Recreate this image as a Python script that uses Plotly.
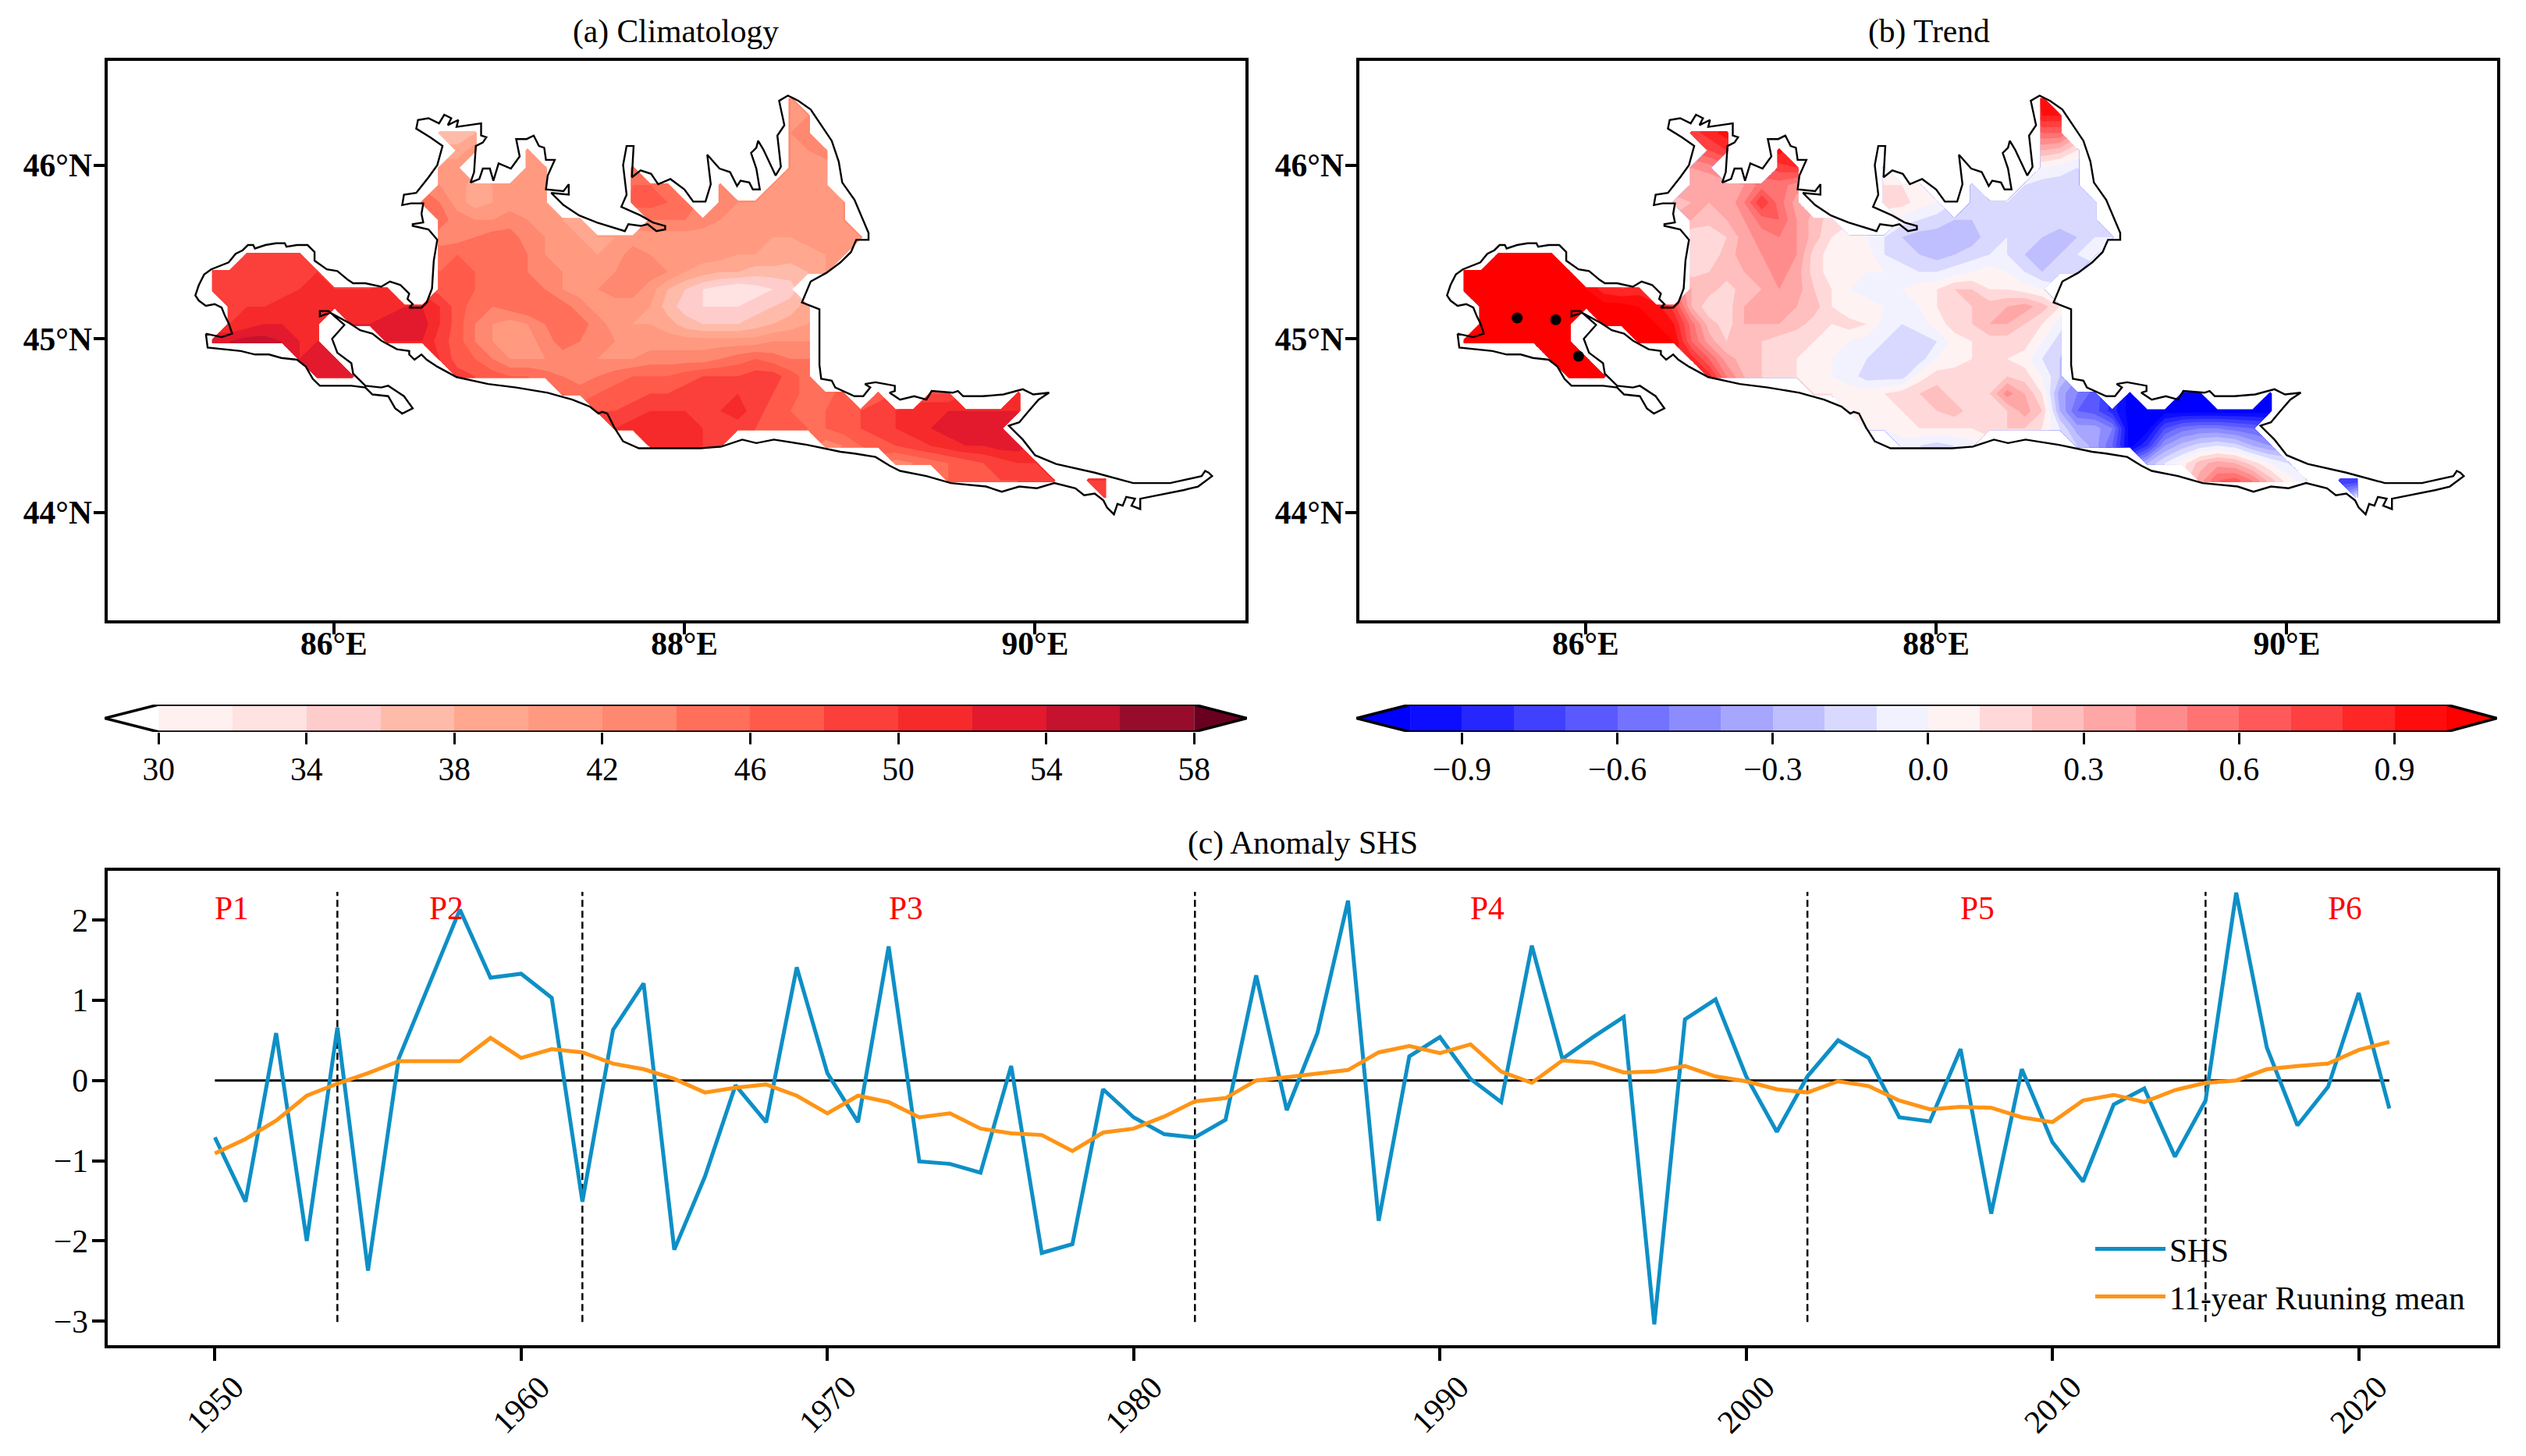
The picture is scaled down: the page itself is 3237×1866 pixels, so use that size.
import plotly.graph_objects as go

W, H = 3237, 1866
FONT = "Liberation Serif"

# ---- Gridded fields: 0.1 degree cells; each row is a list of (first column, values) runs
grid_lon = [round(85.305 + 0.1 * j, 3) for j in range(52)]
grid_lat = [round(44.085 + 0.1 * i, 3) for i in range(24)]

clim_rows = [
    [(51, [50])],
    [(42, [46, 47, 47, 48, 48, 49, 50]), (50, [50, 50])],
    [(39, [43, 44, 45, 46, 47, 48, 49, 50, 50])],
    [(25, [50, 51, 51, 50, 48]), (35, [43, 44, 46, 47, 48, 49, 50, 51, 52, 52, 53, 53])],
    [(23, [50, 51, 51, 51, 51, 50, 50, 49, 48, 48, 47, 46, 46, 47, 48, 49, 50, 51, 52, 53, 54, 54, 53])],
    [(22, [48, 48, 49, 50, 50, 50, 50, 50, 51, 49, 47, 46, 46, 46, 47, 48, 49, 50, 51, 52, 52, 52, 52, 52, 52])],
    [(20, [46, 45, 46, 47, 47, 48, 48, 49, 50, 50, 50, 49, 48, 47, 45, 45, 47]), (38, [47]), (41, [48, 48]), (46, [52])],
    [(6, [54, 53, 52]), (14, [49, 48, 47, 46, 46, 45, 44, 43, 44, 45, 46, 46, 46, 47, 48, 48, 48, 49, 49, 47, 45])],
    [(5, [52, 54, 54]), (13, [50, 47, 46, 44, 42, 42, 42, 43, 43, 42, 42, 42, 43, 43, 43, 43, 44, 45, 46, 45, 44, 44])],
    [(0, [53, 54, 55, 55, 54, 52, 52]), (10, [52, 52, 52, 49, 47, 44, 42, 41, 41, 43, 45, 44, 43, 42, 41, 41, 41, 41, 41, 41, 41, 41, 42, 42, 42])],
    [(1, [50, 51, 52, 52, 52, 51]), (8, [52, 52, 53, 53, 53, 50, 47, 44, 42, 41, 42, 44, 46, 45, 43, 41, 40, 40, 39, 37, 36, 36, 36, 37, 38, 39, 40])],
    [(1, [49, 50, 50, 51, 51, 51, 51, 51, 51, 51, 52, 52, 50, 47, 45, 44, 45, 46, 46, 45, 43, 41, 41, 41, 40, 37, 35, 34, 34, 34, 35, 36, 37, 39])],
    [(0, [50, 49, 48, 48, 49, 50, 51, 50, 50, 50, 51]), (13, [47, 47, 46, 46, 45, 45, 44, 42, 41, 42, 43, 43, 41, 38, 36, 34, 33, 32, 33, 34, 35])],
    [(0, [50, 50, 50, 50, 50, 50, 50]), (13, [46, 47, 46, 46, 45, 44, 43, 42, 41, 41, 42, 43, 43, 42, 40, 39, 38, 38, 37, 37, 37, 38, 40])],
    [(2, [49, 50, 49, 49]), (13, [45, 46, 46, 45, 45, 44, 42, 41, 41, 40, 41, 43, 42, 42, 41, 41, 41, 40, 40, 40, 39, 39, 40, 41])],
    [(13, [43, 43, 44, 45, 45, 43, 42, 41, 40, 40, 40, 41, 41, 41, 41, 41, 41, 41, 41, 40, 40, 41, 41, 41, 42])],
    [(13, [45, 43, 42, 42, 43, 42, 41, 40, 39]), (25, [44, 44, 44, 43, 42, 42, 41, 41, 41, 41, 41, 42])],
    [(12, [46, 44, 41, 39, 40, 41, 41, 40]), (24, [47, 47, 46, 45]), (29, [43, 42, 42, 42, 41, 41, 41, 42])],
    [(13, [42, 41, 39, 40, 41, 41, 41]), (24, [46, 46, 45]), (29, [43]), (32, [42, 41, 41, 41])],
    [(13, [41, 41]), (18, [42, 41]), (24, [44]), (33, [42, 41, 41])],
    [(14, [39, 41]), (18, [42]), (33, [42, 42, 43])],
    [(13, [36, 36, 38]), (33, [42, 43])],
    [(33, [42, 42])],
    [(33, [42])],
]

trend_rows = [
    [(51, [-0.05])],
    [(42, [0.35, 0.6, 0.65, 0.5, 0.25, 0.05, -0.05]), (50, [-0.8, -0.8])],
    [(39, [-0.3, -0.1, 0.05, 0.25, 0.35, 0.3, 0.15, 0.0, -0.1])],
    [(25, [-0.05, -0.1, -0.15, -0.1, -0.05]), (35, [-0.2, -0.35, -0.6, -1.05, -0.8, -0.4, -0.25, -0.15, -0.1, -0.15, -0.3, -0.4])],
    [(23, [0.0, 0.0, 0.05, 0.1, 0.1, 0.1, 0.1, 0.15, 0.2, 0.2, 0.1, -0.1, -0.35, -0.35, -0.5, -1.05, -1.05, -0.7, -0.55, -0.5, -0.5, -0.55, -0.6])],
    [(22, [0.0, 0.05, 0.05, 0.1, 0.1, 0.2, 0.25, 0.15, 0.1, 0.2, 0.35, 0.2, -0.3, -0.6, -0.65, -0.85, -1.05, -1.05, -1.05, -1.05, -1.05, -1.05, -1.05, -1.05, -1.05])],
    [(20, [0.1, 0.1, 0.05, 0.05, 0.1, 0.15, 0.2, 0.25, 0.15, 0.15, 0.2, 0.45, 0.3, 0.1, -0.35, -0.5, -0.65]), (38, [-1.05]), (41, [-1.05, -1.05]), (46, [-1.05])],
    [(6, [1.05, 1.05, 1.05]), (14, [0.85, 0.5, 0.3, 0.2, 0.15, 0.1, 0.05, 0.0, -0.05, -0.15, -0.15, -0.15, 0.05, 0.15, 0.15, 0.15, 0.1, 0.2, 0.15, 0.0, -0.2])],
    [(5, [1.05, 1.05, 1.05]), (13, [0.85, 0.6, 0.35, 0.25, 0.2, 0.15, 0.1, 0.05, 0.0, -0.05, -0.1, -0.15, -0.15, -0.15, 0.0, 0.05, 0.1, 0.15, 0.1, 0.05, -0.1, -0.2])],
    [(0, [1.05, 1.05, 1.05, 1.05, 1.05, 1.05, 1.05]), (10, [1.05, 1.05, 1.0, 0.6, 0.35, 0.2, 0.2, 0.2, 0.15, 0.1, 0.1, 0.05, 0.0, -0.05, -0.1, -0.15, -0.15, -0.1, 0.05, 0.1, 0.15, 0.15, 0.15, 0.0, -0.15])],
    [(1, [1.05, 1.05, 1.05, 1.05, 1.05, 1.05]), (8, [1.05, 1.05, 1.05, 1.0, 0.9, 0.55, 0.25, 0.15, 0.3, 0.3, 0.3, 0.25, 0.15, 0.1, 0.15, 0.1, -0.05, -0.1, -0.05, 0.05, 0.15, 0.2, 0.3, 0.3, 0.2, 0.1, -0.05])],
    [(1, [1.05, 1.05, 1.05, 1.05, 1.05, 1.05, 1.05, 1.05, 1.05, 1.0, 0.95, 0.75, 0.3, 0.12, 0.15, 0.3, 0.3, 0.4, 0.3, 0.25, 0.1, 0.0, 0.05, 0.0, -0.05, 0.0, 0.1, 0.15, 0.2, 0.25, 0.3, 0.35, 0.25, 0.1])],
    [(0, [1.05, 1.05, 1.05, 1.05, 1.05, 1.05, 1.05, 1.0, 0.85, 0.8, 0.85]), (13, [0.3, 0.25, 0.15, 0.25, 0.3, 0.4, 0.35, 0.2, 0.1, 0.0, -0.05, -0.1, 0.0, 0.05, 0.1, 0.2, 0.2, 0.1, 0.1, 0.05, 0.0])],
    [(0, [1.05, 1.05, 1.05, 1.05, 1.05, 1.05, 1.05]), (13, [0.15, 0.2, 0.25, 0.3, 0.35, 0.45, 0.35, 0.15, 0.05, 0.0, 0.0, 0.0, -0.05, -0.1, -0.1, -0.05, 0.0, 0.05, 0.0, -0.1, -0.2, -0.2, -0.15])],
    [(2, [1.05, 1.05, 1.05, 1.05]), (13, [0.1, 0.12, 0.25, 0.35, 0.4, 0.5, 0.4, 0.15, 0.05, 0.05, 0.05, -0.1, -0.15, -0.2, -0.25, -0.2, -0.15, -0.1, -0.1, -0.2, -0.25, -0.2, -0.1, -0.05])],
    [(13, [0.1, 0.1, 0.2, 0.35, 0.45, 0.5, 0.4, 0.25, 0.1, 0.05, 0.0, -0.1, -0.2, -0.25, -0.25, -0.25, -0.25, -0.15, -0.1, -0.15, -0.2, -0.25, -0.2, -0.1, -0.1])],
    [(13, [0.3, 0.25, 0.3, 0.4, 0.55, 0.6, 0.4, 0.25, 0.15]), (25, [-0.05, -0.1, -0.15, -0.2, -0.2, -0.15, -0.1, -0.15, -0.15, -0.15, -0.15, -0.15])],
    [(12, [0.25, 0.3, 0.3, 0.3, 0.5, 0.8, 0.55, 0.35]), (24, [0.15, 0.15, 0.05, 0.0]), (29, [-0.15, -0.2, -0.1, -0.15, -0.15, -0.15, -0.15, -0.15])],
    [(13, [0.3, 0.3, 0.35, 0.4, 0.55, 0.55, 0.45]), (24, [0.1, 0.1, 0.05]), (29, [-0.2]), (32, [-0.1, -0.15, -0.15, -0.15])],
    [(13, [0.4, 0.45]), (18, [0.75, 0.8]), (24, [0.05]), (33, [0.0, -0.05, -0.1])],
    [(14, [0.7, 0.8]), (18, [0.95]), (33, [0.3, 0.25, 0.1])],
    [(13, [0.75, 0.85, 0.95]), (33, [0.6, 0.6])],
    [(33, [0.9, 0.9])],
    [(33, [0.95])],
]

# Significant trend cells
sig_lon = [85.61, 85.83, 85.96]
sig_lat = [45.12, 45.11, 44.90]

# Basin outline, traced west to east along the north shore and back along the south shore
coast_lon = [
    85.27, 85.36, 85.42, 85.40, 85.38, 85.36, 85.32, 85.27, 85.23, 85.21, 85.23, 85.26, 85.30, 85.35, 85.40, 85.44,
    85.48, 85.51, 85.54, 85.55, 85.61, 85.67, 85.72, 85.73, 85.79, 85.85, 85.89, 85.89, 85.96, 86.02, 86.08, 86.11,
    86.18, 86.27, 86.32, 86.38, 86.43, 86.42, 86.45, 86.43, 86.50, 86.53, 86.56, 86.57, 86.59, 86.54, 86.45, 86.45,
    86.51, 86.50, 86.51, 86.44, 86.39, 86.40, 86.47, 86.54, 86.59, 86.62, 86.55, 86.47, 86.48, 86.54, 86.60, 86.63,
    86.67, 86.65, 86.71, 86.70, 86.84, 86.84, 86.87, 86.85, 86.81, 86.80, 86.78, 86.83, 86.85, 86.89, 86.91, 86.94,
    87.01, 87.06, 87.04, 87.10, 87.14, 87.17, 87.20, 87.21, 87.26, 87.22, 87.21, 87.31, 87.34, 87.34, 87.24, 87.31,
    87.40, 87.50, 87.59, 87.66, 87.68, 87.75, 87.79, 87.84, 87.89, 87.89, 87.82, 87.75, 87.64, 87.67, 87.65, 87.67,
    87.71, 87.70, 87.75, 87.81, 87.85, 87.92, 88.00, 88.05, 88.12, 88.15, 88.13, 88.20, 88.26, 88.30, 88.32, 88.37,
    88.39, 88.43, 88.41, 88.38, 88.41, 88.42, 88.45, 88.52, 88.55, 88.53, 88.57, 88.55, 88.54, 88.59, 88.65, 88.72,
    88.84, 88.88, 88.90, 88.97, 89.05, 89.05, 88.98, 88.95, 88.89, 88.81, 88.72, 88.67, 88.77, 88.77, 88.77, 88.78,
    88.84, 88.86, 88.97, 89.02, 89.06, 89.03, 89.09, 89.20, 89.20, 89.17, 89.23, 89.31, 89.38, 89.41, 89.53, 89.56,
    89.59, 89.70, 89.82, 89.93, 89.99, 90.08, 90.02, 89.96, 89.91, 89.85, 89.93, 90.00, 90.12, 90.34, 90.48, 90.56,
    90.77, 90.95, 90.97, 90.99, 91.01, 90.93, 90.85, 90.75, 90.60, 90.60, 90.55, 90.57, 90.52, 90.50, 90.47, 90.45,
    90.41, 90.39, 90.34, 90.28, 90.23, 90.11, 90.01, 89.91, 89.81, 89.72, 89.52, 89.38, 89.23, 89.17, 89.09, 88.97,
    88.89, 88.70, 88.51, 88.41, 88.33, 88.21, 88.09, 87.95, 87.74, 87.65, 87.60, 87.56, 87.53, 87.51, 87.46, 87.36,
    87.22, 87.04, 86.88, 86.70, 86.59, 86.53, 86.50, 86.46, 86.43, 86.43, 86.36, 86.27, 86.22, 86.15, 86.09, 85.98,
    85.92, 85.92, 85.97, 86.06, 85.99, 86.02, 86.10, 86.11, 86.18, 86.27, 86.31, 86.40, 86.45, 86.39, 86.35, 86.31,
    86.22, 86.18, 86.10, 86.04, 85.92, 85.88, 85.84, 85.79, 85.70, 85.63, 85.55, 85.47, 85.28, 85.27,
]
coast_lat = [
    45.03, 45.01, 45.03, 45.09, 45.13, 45.18, 45.20, 45.19, 45.22, 45.25, 45.31, 45.37, 45.40, 45.42, 45.44, 45.49,
    45.51, 45.54, 45.54, 45.52, 45.54, 45.55, 45.55, 45.53, 45.54, 45.54, 45.50, 45.45, 45.40, 45.39, 45.34, 45.32,
    45.32, 45.30, 45.33, 45.31, 45.26, 45.23, 45.20, 45.18, 45.18, 45.21, 45.29, 45.45, 45.57, 45.63, 45.65, 45.66,
    45.67, 45.72, 45.78, 45.78, 45.77, 45.83, 45.84, 45.93, 46.00, 46.11, 46.16, 46.21, 46.26, 46.27, 46.24, 46.29,
    46.27, 46.23, 46.26, 46.22, 46.24, 46.17, 46.16, 46.13, 46.11, 45.96, 45.90, 45.92, 45.98, 45.98, 45.91, 46.01,
    45.98, 46.05, 46.15, 46.15, 46.17, 46.11, 46.10, 46.03, 46.03, 45.94, 45.86, 45.85, 45.89, 45.83, 45.84, 45.77,
    45.71, 45.67, 45.64, 45.62, 45.66, 45.65, 45.66, 45.62, 45.63, 45.65, 45.67, 45.71, 45.76, 45.83, 46.00, 46.11,
    46.11, 45.93, 45.97, 45.95, 45.89, 45.92, 45.86, 45.79, 45.79, 45.89, 46.06, 45.98, 45.96, 45.88, 45.91, 45.90,
    45.86, 45.86, 45.98, 46.07, 46.10, 46.14, 46.09, 45.94, 45.99, 46.17, 46.23, 46.33, 46.37, 46.40, 46.37, 46.32,
    46.14, 46.02, 45.90, 45.80, 45.61, 45.57, 45.57, 45.50, 45.44, 45.38, 45.33, 45.21, 45.17, 45.03, 44.85, 44.77,
    44.76, 44.72, 44.67, 44.67, 44.72, 44.74, 44.75, 44.73, 44.70, 44.69, 44.65, 44.67, 44.65, 44.70, 44.69, 44.70,
    44.67, 44.67, 44.68, 44.71, 44.68, 44.69, 44.65, 44.58, 44.52, 44.50, 44.42, 44.33, 44.28, 44.23, 44.19, 44.17,
    44.17, 44.21, 44.24, 44.23, 44.21, 44.15, 44.13, 44.11, 44.08, 44.02, 44.04, 44.08, 44.09, 44.04, 44.05, 43.99,
    44.03, 44.07, 44.11, 44.10, 44.14, 44.17, 44.14, 44.15, 44.12, 44.15, 44.17, 44.21, 44.24, 44.27, 44.32, 44.34,
    44.35, 44.39, 44.42, 44.40, 44.42, 44.38, 44.37, 44.37, 44.37, 44.41, 44.49, 44.57, 44.58, 44.57, 44.61, 44.65,
    44.69, 44.72, 44.74, 44.78, 44.84, 44.88, 44.91, 44.88, 44.91, 44.93, 44.94, 44.99, 45.03, 45.05, 45.09, 45.15,
    45.13, 45.16, 45.16, 45.08, 45.00, 44.92, 44.86, 44.80, 44.73, 44.72, 44.73, 44.67, 44.60, 44.57, 44.60, 44.67,
    44.68, 44.72, 44.73, 44.73, 44.73, 44.77, 44.84, 44.88, 44.89, 44.91, 44.91, 44.93, 44.95, 45.03,
]

# Colour bands for the climatology; first and last entries are the open-ended arrows
clim_levels = list(range(30, 60, 2))
clim_colors = [
    "#ffffff", "#fff1ef", "#ffe2e2", "#ffcccc", "#ffbbaa", "#ffa88f", "#ff9a80", "#ff8870",
    "#ff6f5a", "#ff5a4a", "#fb3f3a", "#f62a2a", "#e3192e", "#c5122f", "#960c2a", "#6a0020",
]
clim_ticks = [30, 34, 38, 42, 46, 50, 54, 58]

trend_levels = [round(-1 + 0.1 * k, 1) for k in range(21)]
trend_ticks = [-0.9, -0.6, -0.3, 0.0, 0.3, 0.6, 0.9]
trend_ticktext = ["\u22120.9", "\u22120.6", "\u22120.3", "0.0", "0.3", "0.6", "0.9"]

years = list(range(1950, 2022))
shs = [
    -0.71, -1.51, 0.59, -2.00, 0.66, -2.37, 0.27, 1.19, 2.13, 1.28, 1.33, 1.03,
    -1.51, 0.63, 1.21, -2.11, -1.20, -0.06, -0.52, 1.41, 0.09, -0.52, 1.67, -1.01,
    -1.04, -1.15, 0.18, -2.15, -2.04, -0.11, -0.46, -0.67, -0.71, -0.49, 1.31, -0.37,
    0.59, 2.24, -1.75, 0.30, 0.54, 0.02, -0.27, 1.68, 0.27, 0.54, 0.79, -3.04,
    0.76, 1.01, 0.05, -0.64, 0.05, 0.50, 0.28, -0.46, -0.51, 0.39, -1.66, 0.14,
    -0.77, -1.26, -0.30, -0.10, -0.95, -0.25, 2.34, 0.41, -0.56, -0.08, 1.09, -0.35,
]
running_mean = [
    -0.91, -0.73, -0.50, -0.19, -0.04, 0.09, 0.24, 0.24, 0.24, 0.53, 0.28, 0.39,
    0.35, 0.21, 0.14, 0.02, -0.15, -0.09, -0.05, -0.19, -0.41, -0.19, -0.27, -0.46,
    -0.41, -0.60, -0.66, -0.68, -0.88, -0.65, -0.60, -0.45, -0.26, -0.22, 0.00, 0.04,
    0.09, 0.13, 0.35, 0.43, 0.34, 0.45, 0.11, -0.03, 0.25, 0.22, 0.10, 0.11,
    0.18, 0.05, -0.01, -0.11, -0.15, -0.01, -0.07, -0.25, -0.36, -0.33, -0.34, -0.46,
    -0.52, -0.25, -0.18, -0.27, -0.12, -0.03, 0.00, 0.14, 0.18, 0.21, 0.38, 0.48,
]
break_years = [1954, 1962, 1982, 2002, 2015]
period_names = ["P1", "P2", "P3", "P4", "P5", "P6"]
period_starts = [1950, 1957, 1972, 1991, 2007, 2019]
period_label_y = 2.0
ts_yticks = [-3, -2, -1, 0, 1, 2]
ts_xticks = [1950, 1960, 1970, 1980, 1990, 2000, 2010, 2020]

BLUE = "#0e8fc6"
ORANGE = "#ff9416"


def to_grid(rows):
    z = [[None] * len(grid_lon) for _ in grid_lat]
    for i, runs in enumerate(rows):
        for first, values in runs:
            for k, v in enumerate(values):
                z[i][first + k] = v
    return z


def bwr(v):
    if v < 0:
        c = int(round(255 * (1 + v)))
        return f"rgb({c},{c},255)"
    c = int(round(255 * (1 - v)))
    return f"rgb(255,{c},{c})"


# One colour per band, plus one for each open end
trend_colors = ["#0000ff"] + [bwr(round(-0.95 + 0.1 * k, 2)) for k in range(20)] + ["#ff0000"]


def even_scale(colors):
    n = len(colors) - 1
    return [[k / n, c] for k, c in enumerate(colors)]


def stepped_scale(colors):
    n = len(colors)
    out = []
    for k, c in enumerate(colors):
        out += [[k / n, c], [(k + 1) / n, c]]
    return out


def dom_x(a, b):
    return [a / W, b / W]


def dom_y(top, bottom):
    return [1 - bottom / H, 1 - top / H]


fig = go.Figure()

# Map panels
for idx, (rows, levels, colors) in enumerate(
    [(clim_rows, clim_levels, clim_colors), (trend_rows, trend_levels, trend_colors)]
):
    ax = "" if idx == 0 else "2"
    fig.add_trace(go.Contour(
        x=grid_lon, y=grid_lat, z=to_grid(rows),
        contours=dict(coloring="fill", start=levels[0], end=levels[-1],
                      size=round(levels[1] - levels[0], 3), showlines=False),
        colorscale=even_scale(colors), connectgaps=False, showscale=False,
        line=dict(width=0, smoothing=0), xaxis="x" + ax, yaxis="y" + ax,
        hoverinfo="skip",
    ))
    fig.add_trace(go.Scatter(
        x=coast_lon, y=coast_lat, mode="lines", showlegend=False,
        line=dict(color="black", width=2.4), xaxis="x" + ax, yaxis="y" + ax,
    ))

fig.add_trace(go.Scatter(
    x=sig_lon, y=sig_lat, mode="markers", showlegend=False,
    marker=dict(color="black", size=14), xaxis="x2", yaxis="y2",
))

# Colour bars
for ax, levels, colors, tip_lo, tip_hi in [
    ("4", clim_levels, clim_colors, 28.54, 59.43),
    ("5", trend_levels, trend_colors, -1.104, 1.098),
]:
    lo, hi = levels[0], levels[-1]
    mids = [(levels[k] + levels[k + 1]) / 2 for k in range(len(levels) - 1)]
    fig.add_trace(go.Heatmap(
        x=levels, y=[0, 1], z=[mids], colorscale=stepped_scale(colors[1:-1]),
        zmin=lo, zmax=hi, showscale=False, xaxis="x" + ax, yaxis="y" + ax, hoverinfo="skip",
    ))
    fig.add_trace(go.Scatter(
        x=[lo, tip_lo, lo, lo], y=[0, 0.5, 1, 0], fill="toself", fillcolor=colors[0],
        mode="none", showlegend=False, xaxis="x" + ax, yaxis="y" + ax,
    ))
    fig.add_trace(go.Scatter(
        x=[hi, tip_hi, hi, hi], y=[0, 0.5, 1, 0], fill="toself", fillcolor=colors[-1],
        mode="none", showlegend=False, xaxis="x" + ax, yaxis="y" + ax,
    ))
    fig.add_trace(go.Scatter(
        x=[lo, tip_lo, lo, hi, tip_hi, hi, lo], y=[0, 0.5, 1, 1, 0.5, 0, 0],
        mode="lines", line=dict(color="black", width=3.5), cliponaxis=False,
        showlegend=False, xaxis="x" + ax, yaxis="y" + ax,
    ))

# Time series
fig.add_trace(go.Scatter(
    x=[years[0], years[-1]], y=[0, 0], mode="lines", showlegend=False,
    line=dict(color="black", width=3), xaxis="x3", yaxis="y3",
))
for yr in break_years:
    fig.add_trace(go.Scatter(
        x=[yr, yr], y=[-3.01, 2.35], mode="lines", showlegend=False,
        line=dict(color="black", width=2.5, dash="9px,5px"), xaxis="x3", yaxis="y3",
    ))
fig.add_trace(go.Scatter(
    x=years, y=shs, mode="lines", name="SHS", legendgroup="a",
    line=dict(color=BLUE, width=5), xaxis="x3", yaxis="y3",
))
fig.add_trace(go.Scatter(
    x=years, y=running_mean, mode="lines", name="11-year Ruuning mean", legendgroup="b",
    line=dict(color=ORANGE, width=5), xaxis="x3", yaxis="y3",
))

base_font = dict(family=FONT, size=41.5, color="black")
map_axis = dict(showline=True, mirror=True, linecolor="black", linewidth=3.5, showgrid=False,
                zeroline=False, ticks="outside", ticklen=14, tickwidth=3.5, tickcolor="black")
lon_ticks = dict(tickvals=[86, 88, 90], ticktext=["<b>86°E</b>", "<b>88°E</b>", "<b>90°E</b>"],
                 tickfont=base_font, ticklabelstandoff=-24)
lat_ticks = dict(tickvals=[44, 45, 46], ticktext=["<b>44°N</b>", "<b>45°N</b>", "<b>46°N</b>"],
                 tickfont=base_font, ticklabelstandoff=-6)


def centred_note(text, x, y):
    return dict(text=text, x=x / W, y=1 - y / H, xref="paper", yref="paper", xanchor="center",
                yanchor="middle", showarrow=False, font=base_font)


annotations = [
    centred_note("(a) Climatology", 866, 40),
    centred_note("(b) Trend", 2472, 40),
    centred_note("(c) Anomaly SHS", 1669, 1080),
]
for name, start in zip(period_names, period_starts):
    annotations.append(dict(
        text=name, x=start, y=period_label_y, xref="x3", yref="y3", xanchor="left", yanchor="bottom",
        yshift=-10, xshift=-2, showarrow=False, font=dict(family=FONT, size=41.5, color="red"),
    ))
for yr in ts_xticks:
    annotations.append(dict(
        text=str(yr), x=yr, y=1 - 1800 / H, xref="x3", yref="paper", textangle=-45,
        xanchor="center", yanchor="middle", showarrow=False, font=base_font,
    ))

cb_axis = dict(showline=False, showgrid=False, zeroline=False, ticks="outside", ticklen=15,
               tickwidth=2.5, tickcolor="black", tickfont=base_font, tickmode="array",
               ticklabelstandoff=-4)
hidden = dict(range=[0, 1], visible=False, fixedrange=True)

fig.update_layout(
    width=W, height=H, autosize=False, margin=dict(l=0, r=0, t=0, b=0),
    paper_bgcolor="white", plot_bgcolor="white", font=base_font,
    annotations=annotations,
    xaxis=dict(domain=dom_x(138, 1596), range=[84.71, 91.2], **map_axis, **lon_ticks),
    yaxis=dict(domain=dom_y(78, 795), range=[43.38, 46.6], **map_axis, **lat_ticks),
    xaxis2=dict(domain=dom_x(1742, 3200), range=[84.71, 91.2], anchor="y2", **map_axis, **lon_ticks),
    yaxis2=dict(domain=dom_y(78, 795), range=[43.38, 46.6], anchor="x2", **map_axis, **lat_ticks),
    xaxis3=dict(domain=dom_x(138, 3200), range=[1946.5, 2024.52], anchor="y3", showline=True, mirror=True,
                linecolor="black", linewidth=3.5, showgrid=False, zeroline=False, ticks="outside",
                ticklen=16, tickwidth=3.5, tickcolor="black", tickmode="array", tickvals=ts_xticks,
                showticklabels=False),
    yaxis3=dict(domain=dom_y(1116, 1724), range=[-3.30, 2.613], anchor="x3", showline=True, mirror=True,
                linecolor="black", linewidth=3.5, showgrid=False, zeroline=False, ticks="outside",
                ticklen=16, tickwidth=3.5, tickcolor="black", tickmode="array", tickvals=ts_yticks,
                ticktext=["\u22123", "\u22122", "\u22121", "0", "1", "2"], tickfont=base_font,
                ticklabelstandoff=-3),
    xaxis4=dict(domain=dom_x(134, 1598), range=[28.54, 59.43], anchor="y4", tickvals=clim_ticks, **cb_axis),
    yaxis4=dict(domain=dom_y(903, 938), anchor="x4", **hidden),
    xaxis5=dict(domain=dom_x(1738, 3200), range=[-1.104, 1.098], anchor="y5", tickvals=trend_ticks,
                ticktext=trend_ticktext, **cb_axis),
    yaxis5=dict(domain=dom_y(903, 938), anchor="x5", **hidden),
    showlegend=True,
    legend=dict(x=2680 / W, y=1 - 1567 / H, xanchor="left", yanchor="top", bgcolor="rgba(0,0,0,0)",
                font=base_font, itemwidth=90, tracegroupgap=4),
)

fig.write_html("out.html")
